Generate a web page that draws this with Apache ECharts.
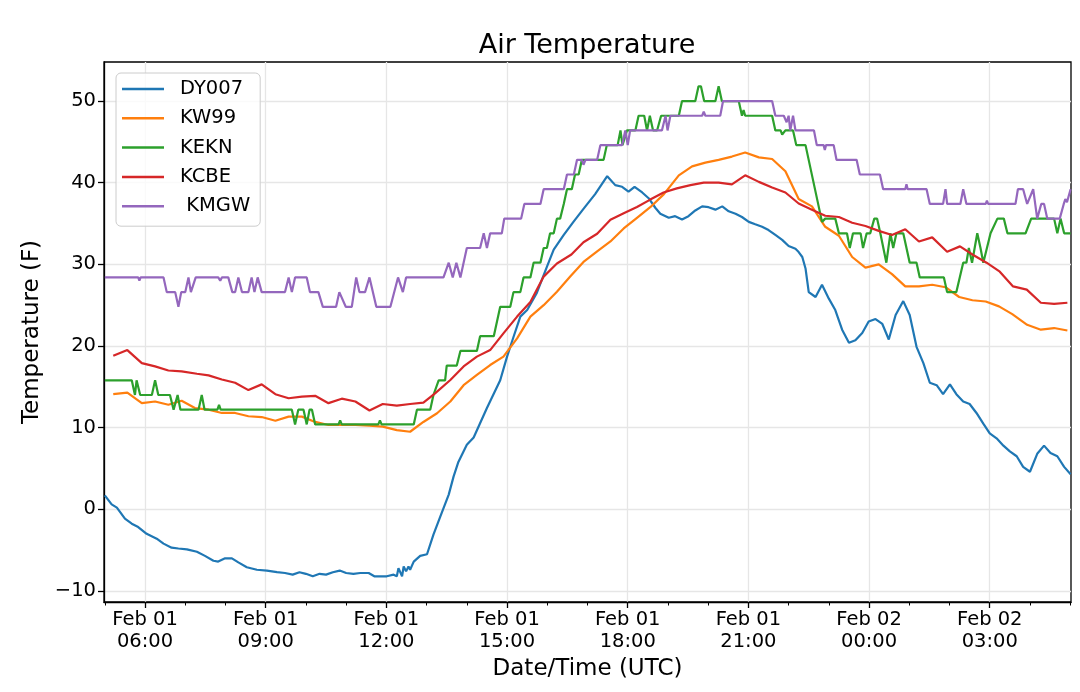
<!DOCTYPE html>
<html>
<head>
<meta charset="utf-8">
<title>Air Temperature</title>
<script src="https://cdn.jsdelivr.net/npm/echarts@6/dist/echarts.min.js"></script>
<style>
  html, body { margin: 0; padding: 0; background: #fff; }
  #chart { width: 1080px; height: 692px; }
</style>
</head>
<body>
<div id="chart"></div>
<script>
// 数据 (hours since Feb 01 00:00 UTC, temperature in F)
//-----
var stationNames = ['DY007', 'KW99', 'KEKN', 'KCBE', ' KMGW'];
var stationColors = ['#1f77b4', '#ff7f0e', '#2ca02c', '#d62728', '#9467bd'];

var dy007Hours = [5.0, 5.17, 5.3, 5.5, 5.67, 5.83, 6.04, 6.29, 6.46, 6.66, 6.83, 7.04, 7.29, 7.49, 7.7, 7.82, 7.99, 8.16, 8.32, 8.53,
  8.78, 9.03, 9.28, 9.48, 9.67, 9.84, 10.0, 10.17, 10.34, 10.5, 10.67, 10.84, 11.0, 11.18, 11.35, 11.56, 11.7, 12.01, 12.18, 12.26,
  12.3, 12.34, 12.39, 12.43, 12.49, 12.55, 12.59, 12.68, 12.84, 13.01, 13.17, 13.34, 13.55, 13.67, 13.79, 14.0, 14.17, 14.5, 14.83, 15.0,
  15.16, 15.33, 15.5, 15.74, 15.99, 16.16, 16.41, 16.65, 16.9, 17.19, 17.49, 17.69, 17.86, 18.02, 18.17, 18.36, 18.52, 18.69, 18.81, 19.02,
  19.18, 19.35, 19.51, 19.68, 19.85, 20.01, 20.18, 20.35, 20.51, 20.68, 20.84, 21.01, 21.17, 21.34, 21.5, 21.67, 21.84, 22.0, 22.17, 22.25,
  22.34, 22.42, 22.5, 22.67, 22.83, 23.0, 23.16, 23.33, 23.5, 23.66, 23.83, 23.99, 24.16, 24.33, 24.49, 24.66, 24.85, 25.01, 25.18, 25.35,
  25.51, 25.68, 25.84, 26.01, 26.17, 26.34, 26.5, 26.67, 26.84, 27.0, 27.17, 27.34, 27.5, 27.67, 27.83, 28.0, 28.18, 28.35, 28.51, 28.68,
  28.85, 29.01];
var dy007Temps = [1.7, 0.6, 0.2, -1.15, -1.76, -2.17, -3.0, -3.6, -4.2, -4.7, -4.8, -4.9, -5.2, -5.7, -6.3, -6.4, -6.0, -6.0, -6.5, -7.1,
  -7.4, -7.5, -7.7, -7.8, -8.0, -7.7, -7.9, -8.2, -7.9, -8.0, -7.7, -7.5, -7.8, -7.9, -7.8, -7.8, -8.2, -8.2, -8.0, -8.2,
  -7.2, -7.0, -8.2, -7.0, -7.6, -7.0, -7.4, -6.4, -5.7, -5.5, -3.1, -0.9, 1.8, 4.0, 5.8, 7.9, 8.8, 12.4, 15.8, 18.7,
  21.1, 23.6, 24.4, 26.5, 29.7, 31.8, 33.6, 35.2, 36.8, 38.6, 40.8, 39.7, 39.5, 38.9, 39.5, 38.8, 38.1, 36.9, 36.2, 35.7,
  35.9, 35.5, 35.9, 36.6, 37.1, 37.0, 36.7, 37.1, 36.5, 36.2, 35.8, 35.2, 34.9, 34.6, 34.2, 33.6, 33.0, 32.25, 31.9, 31.5,
  30.9, 29.5, 26.6, 26.0, 27.5, 25.8, 24.4, 22.0, 20.4, 20.7, 21.6, 23.0, 23.3, 22.7, 20.8, 23.8, 25.5, 23.8, 19.9, 17.9,
  15.5, 15.2, 14.1, 15.3, 14.1, 13.2, 12.9, 11.8, 10.5, 9.3, 8.7, 7.8, 7.1, 6.5, 5.2, 4.6, 6.8, 7.8, 6.9, 6.5,
  5.2, 4.3];

var kw99Hours = [5.21, 5.56, 5.92, 6.25, 6.58, 6.91, 7.24, 7.58, 7.91, 8.24, 8.57, 8.9, 9.24, 9.57, 9.9, 10.23, 10.56, 10.89, 11.23, 11.58,
  11.91, 12.26, 12.59, 12.92, 13.26, 13.59, 13.92, 14.25, 14.58, 14.91, 15.25, 15.58, 15.91, 16.24, 16.57, 16.9, 17.24, 17.57, 17.9, 18.23,
  18.56, 18.9, 19.27, 19.6, 19.93, 20.26, 20.59, 20.92, 21.26, 21.59, 21.92, 22.25, 22.58, 22.91, 23.25, 23.58, 23.91, 24.24, 24.57, 24.9,
  25.24, 25.57, 25.9, 26.24, 26.57, 26.9, 27.23, 27.56, 27.93, 28.27, 28.6, 28.93];
var kw99Temps = [14.1, 14.3, 13.0, 13.2, 12.8, 13.3, 12.4, 12.2, 11.8, 11.8, 11.4, 11.3, 10.85, 11.35, 11.35, 10.7, 10.33, 10.33, 10.33, 10.24,
  10.12, 9.7, 9.5, 10.7, 11.76, 13.2, 15.2, 16.45, 17.67, 18.7, 20.94, 23.6, 25.0, 26.65, 28.5, 30.3, 31.6, 32.8, 34.4, 35.7,
  37.0, 38.6, 40.9, 42.0, 42.45, 42.8, 43.2, 43.7, 43.1, 42.9, 41.4, 38.0, 37.1, 34.6, 33.5, 30.9, 29.6, 30.0, 28.8, 27.3,
  27.3, 27.5, 27.2, 26.0, 25.6, 25.45, 24.85, 23.9, 22.6, 22.0, 22.2, 21.9];

var kcbeHours = [5.21, 5.56, 5.92, 6.25, 6.58, 6.91, 7.29, 7.58, 7.91, 8.24, 8.57, 8.9, 9.24, 9.57, 9.9, 10.23, 10.56, 10.89, 11.23, 11.58,
  11.91, 12.26, 12.59, 12.92, 13.21, 13.59, 13.92, 14.25, 14.58, 14.91, 15.25, 15.58, 15.91, 16.24, 16.6, 16.9, 17.24, 17.57, 17.9, 18.23,
  18.56, 18.89, 19.22, 19.56, 19.89, 20.26, 20.59, 20.92, 21.26, 21.59, 21.92, 22.25, 22.58, 22.91, 23.25, 23.58, 23.91, 24.24, 24.57, 24.9,
  25.24, 25.57, 25.94, 26.26, 26.59, 26.92, 27.25, 27.58, 27.92, 28.27, 28.6, 28.93];
var kcbeTemps = [18.8, 19.5, 17.9, 17.5, 17.0, 16.9, 16.6, 16.4, 15.9, 15.5, 14.6, 15.3, 14.1, 13.6, 13.8, 13.9, 13.0, 13.55, 13.2, 12.1,
  12.9, 12.7, 12.9, 13.06, 14.2, 15.84, 17.5, 18.7, 19.5, 21.55, 23.6, 25.4, 28.5, 30.1, 31.2, 32.7, 33.75, 35.45, 36.25, 37.03,
  37.93, 38.8, 39.3, 39.7, 40.0, 40.0, 39.8, 40.9, 40.1, 39.4, 38.8, 37.45, 36.7, 35.95, 35.8, 35.1, 34.7, 34.1, 33.6, 34.3,
  32.8, 33.3, 31.55, 32.2, 31.15, 30.2, 29.1, 27.3, 26.9, 25.3, 25.15, 25.3];

var keknHours = [5.0, 5.67, 5.75, 5.79, 5.88, 6.17, 6.25, 6.33, 6.62, 6.71, 6.81, 6.88, 7.33, 7.41, 7.48, 7.8, 7.84, 7.88, 9.65, 9.73,
  9.81, 9.94, 10.02, 10.09, 10.15, 10.23, 10.81, 10.85, 10.89, 11.8, 11.84, 11.88, 12.68, 12.76, 13.09, 13.17, 13.3, 13.46, 13.5, 13.75,
  13.84, 14.25, 14.33, 14.67, 14.75, 14.83, 15.08, 15.16, 15.33, 15.41, 15.58, 15.66, 15.83, 15.91, 15.99, 16.07, 16.16, 16.24, 16.32, 16.41,
  16.49, 16.61, 16.69, 16.78, 16.86, 17.4, 17.48, 17.75, 17.82, 17.87, 17.98, 18.19, 18.27, 18.41, 18.48, 18.55, 18.63, 18.73, 18.83, 19.27,
  19.35, 19.68, 19.76, 19.82, 19.9, 20.18, 20.26, 20.34, 20.76, 20.84, 20.88, 20.92, 21.59, 21.67, 21.8, 21.84, 21.92, 22.11, 22.19, 22.42,
  22.83, 22.91, 23.16, 23.25, 23.45, 23.52, 23.6, 23.79, 23.85, 23.94, 24.03, 24.13, 24.2, 24.28, 24.43, 24.53, 24.6, 24.68, 24.85, 25.01,
  25.18, 25.26, 25.86, 25.94, 26.17, 26.34, 26.42, 26.48, 26.56, 26.69, 26.77, 26.84, 27.02, 27.19, 27.35, 27.44, 27.89, 28.03, 28.6, 28.68,
  28.76, 28.85, 29.01];
var keknTemps = [15.8, 15.8, 14.0, 15.8, 14.0, 14.0, 15.8, 14.0, 14.0, 12.2, 14.0, 12.2, 12.2, 14.0, 12.2, 12.2, 12.8, 12.2, 12.2, 10.4,
  12.2, 12.2, 10.4, 12.2, 12.2, 10.4, 10.4, 10.9, 10.4, 10.4, 10.9, 10.4, 10.4, 12.2, 12.2, 14.0, 15.8, 15.8, 17.6, 17.6,
  19.4, 19.4, 21.2, 21.2, 23.0, 24.8, 24.8, 26.6, 26.6, 28.4, 28.4, 30.2, 30.2, 32.0, 32.0, 33.8, 33.8, 35.6, 35.6, 37.4,
  39.2, 39.2, 41.0, 41.0, 42.8, 42.8, 44.6, 44.6, 46.4, 44.6, 46.4, 46.4, 48.2, 48.2, 46.4, 48.2, 46.4, 46.4, 48.2, 48.2,
  50.0, 50.0, 51.8, 51.8, 50.0, 50.0, 51.8, 50.0, 50.0, 48.2, 48.9, 48.2, 48.2, 46.4, 46.4, 45.9, 46.4, 46.4, 44.6, 44.6,
  35.2, 35.6, 35.6, 33.8, 33.8, 32.0, 33.8, 33.8, 32.0, 33.8, 33.8, 35.6, 35.6, 33.8, 30.2, 33.8, 32.0, 33.8, 33.8, 30.2,
  30.2, 28.4, 28.4, 26.6, 26.6, 30.2, 30.2, 32.0, 30.2, 33.8, 32.0, 30.2, 33.8, 35.6, 35.6, 33.8, 33.8, 35.6, 35.6, 33.8,
  35.6, 33.8, 33.8];

var kmgwHours = [5.0, 5.83, 5.86, 5.89, 6.46, 6.54, 6.75, 6.83, 6.9, 7.0, 7.08, 7.14, 7.26, 7.82, 7.87, 7.91, 8.07, 8.17, 8.24, 8.32,
  8.41, 8.57, 8.65, 8.72, 8.8, 8.9, 9.48, 9.57, 9.65, 9.73, 10.02, 10.1, 10.31, 10.42, 10.75, 10.83, 10.99, 11.14, 11.25, 11.33,
  11.47, 11.58, 11.75, 12.1, 12.29, 12.41, 12.49, 13.42, 13.55, 13.65, 13.74, 13.84, 14.0, 14.33, 14.42, 14.5, 14.58, 14.87, 14.93, 15.35,
  15.43, 15.83, 15.91, 16.41, 16.49, 16.66, 16.74, 16.86, 16.9, 16.95, 17.24, 17.32, 17.86, 17.94, 18.0, 18.06, 18.85, 18.94, 18.99, 19.06,
  19.85, 19.89, 19.93, 20.3, 20.37, 21.59, 21.67, 21.88, 21.95, 22.0, 22.04, 22.11, 22.17, 22.63, 22.7, 22.87, 22.9, 22.93, 23.12, 23.19,
  23.69, 23.77, 24.27, 24.35, 24.9, 24.93, 24.96, 25.43, 25.51, 25.84, 25.9, 25.94, 26.27, 26.34, 26.42, 26.9, 26.93, 26.96, 27.64, 27.7,
  27.83, 27.93, 28.08, 28.18, 28.28, 28.35, 28.43, 28.74, 28.84, 28.88, 28.92, 29.01];
var kmgwTemps = [28.4, 28.4, 28.0, 28.4, 28.4, 26.6, 26.6, 24.8, 26.6, 26.6, 28.4, 26.6, 28.4, 28.4, 28.0, 28.4, 28.4, 26.6, 26.6, 28.4,
  26.6, 26.6, 28.4, 26.6, 28.4, 26.6, 26.6, 28.4, 26.6, 28.4, 28.4, 26.6, 26.6, 24.8, 24.8, 26.6, 24.8, 24.8, 28.4, 26.6,
  26.6, 28.4, 24.8, 24.8, 28.4, 26.6, 28.4, 28.4, 30.2, 28.4, 30.2, 28.4, 32.0, 32.0, 33.8, 32.0, 33.8, 33.8, 35.6, 35.6,
  37.4, 37.4, 39.2, 39.2, 41.0, 41.0, 42.8, 42.8, 42.2, 42.8, 42.8, 44.6, 44.6, 46.4, 44.6, 46.4, 46.4, 48.2, 46.4, 48.2,
  48.2, 48.7, 48.2, 48.2, 50.0, 50.0, 48.2, 48.2, 47.4, 48.2, 46.4, 48.2, 46.4, 46.4, 44.6, 44.6, 44.0, 44.6, 44.6, 42.8,
  42.8, 41.0, 41.0, 39.2, 39.2, 39.8, 39.2, 39.2, 37.4, 37.4, 39.2, 37.4, 37.4, 39.2, 37.4, 37.4, 37.8, 37.4, 37.4, 39.2,
  39.2, 37.4, 39.2, 35.6, 37.4, 37.4, 35.6, 35.6, 37.4, 38.0, 37.6, 39.2];

// 坐标轴刻度
var xTickHours = [6, 9, 12, 15, 18, 21, 24, 27];
var xTickLabels = ['Feb 01\n06:00', 'Feb 01\n09:00', 'Feb 01\n12:00', 'Feb 01\n15:00',
  'Feb 01\n18:00', 'Feb 01\n21:00', 'Feb 02\n00:00', 'Feb 02\n03:00'];
var xMinorHours = [5, 6, 7, 8, 9, 10, 11, 12, 13, 14, 15, 16, 17, 18, 19, 20, 21, 22, 23, 24, 25, 26, 27, 28, 29];
var yTicks = [-10, 0, 10, 20, 30, 40, 50];

var allHours = [dy007Hours, kw99Hours, keknHours, kcbeHours, kmgwHours];
var allTemps = [dy007Temps, kw99Temps, keknTemps, kcbeTemps, kmgwTemps];

var zip = function(xs, ys) {
  return xs.map(function(x, i) { return [x, ys[i]]; });
};

// 画图
//-----
var FONT = 'DejaVu Sans';
var myChart = echarts.init(document.getElementById('chart'), null, { renderer: 'canvas' });

var series = stationNames.map(function(name, i) {
  return {
    name: name,
    type: 'line',
    symbol: 'none',
    data: zip(allHours[i], allTemps[i]),
    lineStyle: { color: stationColors[i], width: 2.2 },
    itemStyle: { color: stationColors[i] },
    emphasis: { disabled: true }
  };
});

var option = {
  animation: false,
  backgroundColor: '#fff',
  textStyle: { fontFamily: FONT, color: '#000' },
  title: {
    text: 'Air Temperature',
    left: 587,
    top: 32,
    padding: 0,
    textAlign: 'center',
    textStyle: { fontFamily: FONT, fontSize: 27, fontWeight: 'normal', color: '#000' }
  },
  legend: {
    data: stationNames,
    orient: 'vertical',
    left: 116,
    top: 73,
    icon: 'rect',
    itemWidth: 42,
    itemHeight: 2.5,
    itemGap: 7.3,
    padding: [5, 10, 9, 6],
    backgroundColor: 'rgba(255,255,255,0.8)',
    borderColor: '#cccccc',
    borderWidth: 1,
    borderRadius: 5,
    textStyle: { fontFamily: FONT, fontSize: 19.5, lineHeight: 22, color: '#000', padding: [0, 0, 0, 11] }
  },
  grid: {
    left: 104, top: 62, width: 967, height: 540,
    show: true, borderColor: '#000', borderWidth: 1.3
  },
  xAxis: [
    {
      type: 'value',
      min: 4.98,
      max: 29.02,
      position: 'bottom',
      name: 'Date/Time (UTC)',
      nameLocation: 'middle',
      nameGap: 54,
      nameTextStyle: { fontFamily: FONT, fontSize: 23, color: '#000' },
      axisLine: { onZero: false, lineStyle: { color: '#000', width: 1.3 } },
      axisTick: { customValues: xTickHours, length: 6, lineStyle: { color: '#000', width: 1.3 } },
      axisLabel: {
        customValues: xTickHours,
        formatter: function(v) { return xTickLabels[xTickHours.indexOf(v)] || ''; },
        fontFamily: FONT, fontSize: 19.5, lineHeight: 22, color: '#000', margin: 7
      },
      splitLine: { show: true, lineStyle: { color: '#e6e6e6', width: 1.3 } }
    },
    {
      type: 'value',
      min: 4.98,
      max: 29.02,
      position: 'bottom',
      axisLine: { show: false, onZero: false },
      axisTick: { customValues: xMinorHours, length: 3.5, lineStyle: { color: '#000', width: 1 } },
      axisLabel: { show: false },
      splitLine: { show: false }
    }
  ],
  yAxis: {
    type: 'value',
    min: -11.35,
    max: 54.78,
    name: 'Temperature (F)',
    nameLocation: 'middle',
    nameGap: 56,
    nameRotate: 90,
    nameTextStyle: { fontFamily: FONT, fontSize: 23, color: '#000' },
    axisLine: { show: true, onZero: false, lineStyle: { color: '#000', width: 1.3 } },
    axisTick: { show: true, customValues: yTicks, length: 6, lineStyle: { color: '#000', width: 1.3 } },
    axisLabel: {
      customValues: yTicks,
      formatter: function(v) { return String(v).replace('-', '\u2212'); },
      fontFamily: FONT, fontSize: 19.5, color: '#000', margin: 8
    },
    splitLine: { show: true, lineStyle: { color: '#e6e6e6', width: 1.3 } }
  },
  series: series
};

myChart.setOption(option);
</script>
</body>
</html>
